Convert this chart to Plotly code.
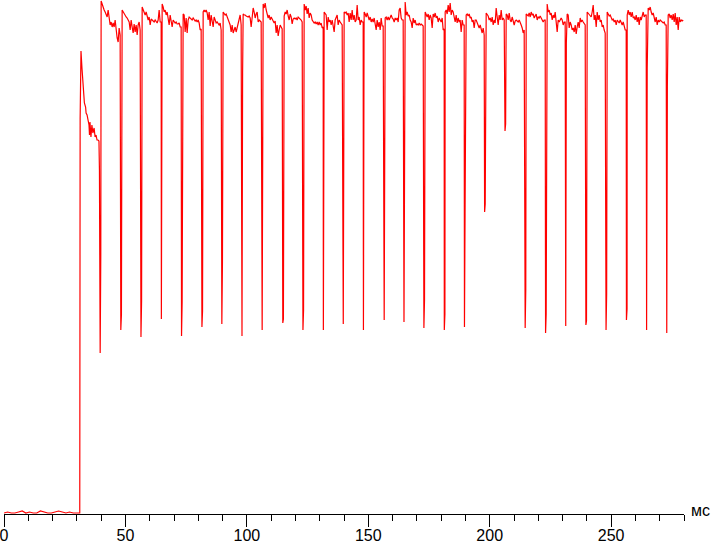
import numpy as np
import plotly.graph_objects as go

# flat baseline, switch-on and the first decay (ms, brightness)
onset_t = [0.0, 1.5, 3.0, 4.5, 6.0, 7.5, 9.0, 10.5, 12.0, 13.5, 15.0, 16.5, 18.0, 19.5,
           21.0, 22.5, 24.0, 25.5, 27.0, 28.5, 30.0, 31.2, 31.35, 31.7, 32.1, 32.5, 32.9,
           33.1, 33.6, 33.8, 34.2, 34.6, 35.0, 35.2, 35.4, 35.8, 36.2, 36.6, 37.1, 37.5,
           37.9, 38.3, 38.7, 39.1, 39.3]
onset_v = [0.2, 0.4, 0.2, 0.2, 0.4, 0.6, 0.2, 0.4, 0.2, 0.2, 0.6, 0.4, 0.2, 0.2,
           0.4, 0.6, 0.4, 0.2, 0.4, 0.2, 0.2, 0.2, 79.0, 92.6, 89.2, 86.4, 84.4,
           82.2, 81.4, 80.2, 79.8, 78.8, 77.8, 75.8, 78.4, 75.4, 77.8, 76.2, 77.2, 75.4,
           75.8, 74.8, 74.8, 74.6, 68.8]

# steady part, sampled every ~0.41 ms from 40 ms
level_t0 = 40.0
level_dt = 0.4118
level = [
    102.6, 101.8, 101.4, 100.8, 100.4, 100.0, 99.4, 100.8, 98.8, 97.8, 98.4, 97.4, 98.2, 97.4, 98.8, 96.8, 95.2, 94.4, 97.2, 95.8, 96.0,
    100.8, 100.4, 100.2, 99.8, 99.4, 99.2, 98.8, 98.4, 96.8, 98.8, 97.4, 96.2, 98.0, 96.4, 97.8, 95.8, 97.8, 98.4, 96.8, 97.0,
    101.4, 100.8, 100.2, 99.8, 100.4, 99.4, 98.8, 99.4, 97.8, 99.0, 98.8, 98.6, 98.4, 98.8, 98.4, 98.2, 98.8, 100.8, 98.4, 98.4,
    102.0, 101.4, 100.4, 100.8, 99.8, 100.4, 99.4, 97.8, 99.8, 98.8, 97.4, 98.8, 98.4, 98.2, 98.4, 98.0, 98.0, 98.2, 97.4, 97.4,
    100.4, 100.0, 99.8, 96.4, 99.2, 96.2, 98.8, 99.4, 99.2, 99.0, 98.8, 99.2, 98.8, 98.6, 98.8, 98.4, 98.8, 98.2, 96.8, 97.0, 100.4,
    100.4, 100.8, 100.4, 100.8, 100.2, 98.8, 100.4, 97.6, 99.8, 98.8, 97.4, 99.4, 98.8, 98.2, 98.4, 98.2, 97.8, 98.2, 96.8, 97.0,
    100.4, 100.2, 99.8, 100.0, 99.4, 98.8, 98.4, 97.8, 96.4, 97.8, 96.2, 96.8, 97.4, 96.4, 97.2, 97.8, 98.4, 99.8, 97.8, 97.0,
    100.0, 99.8, 99.8, 99.6, 99.4, 99.4, 99.6, 99.2, 97.4, 99.8, 101.2, 100.4, 99.2, 100.0, 100.4, 98.4, 98.8, 98.6, 98.4, 98.4,
    102.0, 101.2, 102.2, 100.8, 100.0, 99.2, 99.8, 98.8, 99.4, 99.0, 98.8, 98.2, 98.6, 96.2, 97.8, 95.6, 96.8, 97.8, 97.4, 97.0,
    100.0, 99.6, 100.4, 100.0, 100.8, 99.6, 98.8, 100.0, 99.4, 98.0, 99.0, 99.2, 99.0, 99.2, 98.8, 99.4, 99.2, 99.2, 98.8, 98.4, 98.0,
    102.0, 100.8, 101.6, 100.0, 101.2, 99.2, 100.2, 99.8, 98.8, 98.4, 98.2, 98.4, 98.0, 98.4, 97.8, 98.4, 97.8, 98.2, 97.2, 97.4,
    100.4, 100.2, 99.8, 96.8, 99.4, 98.4, 98.8, 97.8, 98.8, 97.6, 96.4, 98.8, 99.2, 99.8, 97.8, 98.8, 98.4, 98.0, 97.8, 97.8,
    100.4, 100.2, 100.4, 99.8, 100.2, 98.4, 100.2, 98.8, 100.8, 98.8, 99.8, 98.4, 98.8, 101.8, 98.8, 99.4, 97.8, 98.8, 98.4, 98.4,
    100.4, 100.0, 99.4, 100.2, 99.2, 98.8, 99.4, 98.4, 99.0, 98.4, 99.2, 97.8, 96.8, 98.8, 97.4, 98.4, 96.8, 99.2, 97.6, 97.6, 99.0,
    99.2, 99.4, 98.8, 99.4, 98.8, 99.2, 99.8, 99.2, 99.0, 98.4, 99.2, 98.8, 99.2, 98.4, 100.8, 101.2, 99.2, 98.8, 98.8, 98.8,
    102.4, 99.8, 100.4, 99.6, 99.8, 98.8, 98.4, 97.2, 99.2, 98.2, 98.8, 97.8, 98.0, 97.8, 98.2, 97.8, 98.0, 97.8, 97.6, 97.6,
    100.4, 99.8, 99.4, 100.0, 98.8, 99.8, 99.2, 97.2, 100.0, 99.4, 100.2, 99.2, 99.6, 98.4, 99.2, 98.8, 98.4, 99.2, 96.8, 97.0,
    100.4, 100.8, 100.0, 101.8, 100.4, 102.2, 99.8, 100.8, 100.4, 99.4, 98.4, 99.8, 98.2, 99.2, 98.4, 98.8, 96.4, 98.8, 97.8, 97.8,
    100.0, 99.8, 100.0, 99.6, 100.0, 99.2, 99.4, 98.4, 98.8, 97.2, 98.8, 98.8, 98.2, 97.8, 97.2, 97.8, 96.8, 96.2, 97.2, 95.8, 96.0,
    100.2, 99.8, 99.6, 98.8, 99.2, 98.4, 99.4, 97.8, 98.8, 98.2, 101.2, 99.4, 97.8, 99.8, 98.8, 100.8, 98.8, 99.2, 98.8, 98.8,
    100.0, 99.8, 98.8, 100.2, 98.8, 98.4, 99.4, 98.8, 97.8, 98.6, 98.8, 98.6, 98.4, 98.8, 98.4, 97.8, 97.2, 96.2, 96.8, 96.8,
    100.0, 99.8, 99.6, 100.2, 99.4, 100.4, 99.8, 100.0, 99.2, 99.6, 100.0, 98.8, 99.4, 99.2, 99.6, 99.2, 98.8, 98.4, 98.8, 98.8, 101.2,
    102.0, 100.4, 100.8, 99.8, 100.2, 98.8, 99.8, 99.2, 100.4, 98.8, 96.4, 98.8, 98.4, 98.8, 99.2, 98.8, 97.8, 98.4, 98.4, 98.0,
    100.0, 99.8, 97.2, 98.4, 97.8, 96.8, 97.2, 96.4, 97.8, 96.0, 97.4, 98.4, 97.2, 99.2, 98.4, 98.8, 98.4, 98.0, 97.8, 97.8,
    100.4, 100.2, 100.0, 99.8, 99.4, 100.4, 101.8, 98.8, 99.8, 97.4, 100.4, 98.8, 99.8, 98.4, 98.8, 97.4, 97.8, 96.8, 96.2, 96.2,
    100.4, 100.0, 99.6, 99.8, 99.2, 98.8, 99.0, 98.4, 98.8, 97.8, 98.8, 98.4, 98.2, 98.8, 98.4, 97.8, 98.4, 97.8, 96.8, 96.8,
    99.8, 100.8, 99.8, 100.4, 99.4, 100.4, 99.2, 99.4, 98.8, 99.8, 98.4, 99.4, 97.8, 99.4, 98.8, 99.8, 100.4, 99.4, 99.8, 99.8,
    101.2, 101.2, 100.8, 101.4, 100.4, 99.8, 100.2, 99.2, 98.4, 99.4, 97.8, 98.8, 98.4, 98.8, 98.6, 98.4, 98.2, 98.4, 97.8, 97.8,
    99.8, 99.8, 100.0, 99.2, 99.8, 98.8, 100.0, 98.4, 100.2, 97.8, 99.4, 96.8, 99.4, 98.4, 98.8, 98.6, 98.8,
]

# PWM dips: time (ms), lowest value, value on the way back up
dip_t = [39.6, 48.1, 56.4, 64.8, 73.1, 81.5, 89.7, 98.0, 106.3, 114.8, 123.1, 131.5, 139.7, 148.0,
         156.3, 164.7, 172.9, 181.3, 189.6, 197.9, 206.3, 214.6, 223.0, 231.3, 239.6, 247.9,
         256.3, 264.6, 272.9]
dip_depth = [32.2, 36.8, 35.4, 39.0, 35.6, 37.4, 38.0, 35.6, 36.8, 38.2, 36.8, 36.8, 38.0, 36.8,
             39.8, 38.4, 37.2, 36.8, 37.4, 60.4, 76.6, 37.2, 36.2, 37.6, 37.8, 36.8, 38.8, 36.8, 36.2]
dip_mid = [51.8, 39.8, 42.6, 73.2, 42.4, 40.6, 50.4, 88.2, 86.4, 39.0, 40.8, 81.6, 90.8, 95.6,
           38.8, 94.4, 42.8, 40.0, 60.0, 62.0, 78.0, 45.0, 40.0, 94.2, 38.6, 44.0, 41.0, 89.2, 85.4]

t_level = level_t0 + level_dt * np.arange(len(level))
keep = np.ones(len(level), dtype=bool)
for td in dip_t:
    keep &= ~((t_level > td - 0.05) & (t_level < td + 0.3))

t = np.concatenate([onset_t, t_level[keep], dip_t, np.array(dip_t) + 0.25])
v = np.concatenate([onset_v, np.array(level)[keep], dip_depth, dip_mid])
order = np.argsort(t, kind="stable")

fig = go.Figure(go.Scatter(
    x=t[order], y=v[order], mode="lines",
    line=dict(color="#ff0000", width=1.2),
))

fig.update_layout(
    width=711, height=542,
    margin=dict(l=4, r=27, t=0, b=28, autoexpand=False),
    plot_bgcolor="white", paper_bgcolor="white",
    showlegend=False,
    font=dict(family="Liberation Sans, Arial, sans-serif", size=16, color="black"),
)
fig.update_xaxes(
    range=[0, 280], showgrid=False, zeroline=False, automargin=False,
    showline=True, linecolor="black", linewidth=1,
    ticks="outside", ticklen=12, tickwidth=1, tickcolor="black",
    tick0=0, dtick=50, ticklabelstandoff=-5, ticklabeloverflow="allow",
    minor=dict(tick0=0, dtick=10, ticks="outside", ticklen=6, tickcolor="black", showgrid=False),
)
fig.update_yaxes(range=[0, 102.8], visible=False)

fig.add_annotation(
    text="мс", x=1.008, y=0.006, xref="paper", yref="paper",
    xanchor="left", yanchor="middle", showarrow=False,
    font=dict(size=16, color="black"),
)

# the page's default body margin would shift the chart by 8px
fig.write_html("out.html", config={"displayModeBar": False},
               post_script="document.body.style.margin='0';")
